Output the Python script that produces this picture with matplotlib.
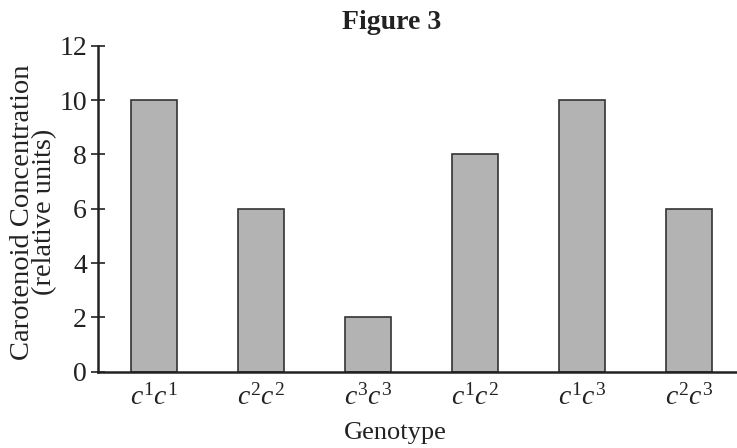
import matplotlib
matplotlib.use("Agg")
import matplotlib.pyplot as plt

genotypes = [r"$c^{1}c^{1}$", r"$c^{2}c^{2}$", r"$c^{3}c^{3}$",
             r"$c^{1}c^{2}$", r"$c^{1}c^{3}$", r"$c^{2}c^{3}$"]
concentration = [10, 6, 2, 8, 10, 6]
yticks = [0, 2, 4, 6, 8, 10, 12]

plt.rcParams["font.family"] = ["Liberation Serif", "DejaVu Serif"]
plt.rcParams["mathtext.fontset"] = "custom"
plt.rcParams["mathtext.rm"] = "Liberation Serif"
plt.rcParams["mathtext.it"] = "Liberation Serif:italic"

ink = "#222222"

fig = plt.figure(figsize=(7.37, 4.48), dpi=100)
ax = fig.add_axes([0.133, 0.170, 0.867, 0.728])

x = list(range(len(genotypes)))
ax.bar(x, concentration, width=0.43, color="#b3b3b3",
       edgecolor="#333333", linewidth=1.2, zorder=2)

ax.set_xlim(-0.52, 5.45)
ax.set_ylim(0, 12)
ax.set_yticks(yticks)
ax.set_xticks(x)
ax.set_xticklabels(genotypes, fontsize=20, color=ink)
ax.tick_params(axis="y", labelsize=20, labelcolor=ink, direction="inout",
               length=10, width=1.2, color=ink, pad=3)
ax.tick_params(axis="x", length=0, pad=9)

for s in ["top", "right"]:
    ax.spines[s].set_visible(False)
for s in ["left", "bottom"]:
    ax.spines[s].set_linewidth(1.8)
    ax.spines[s].set_color(ink)

ax.set_ylabel("Carotenoid Concentration\n(relative units)", fontsize=20.5,
              linespacing=0.85, color=ink)
ax.yaxis.set_label_coords(-0.064, 0.49)
ax.set_xlabel("Genotype", fontsize=19, color=ink)
ax.xaxis.set_label_coords(0.465, -0.155)
fig.text(0.531, 0.935, "Figure 3", fontsize=20, fontweight="bold",
         ha="center", va="baseline", color=ink)

fig.savefig("out.png", dpi=100)
